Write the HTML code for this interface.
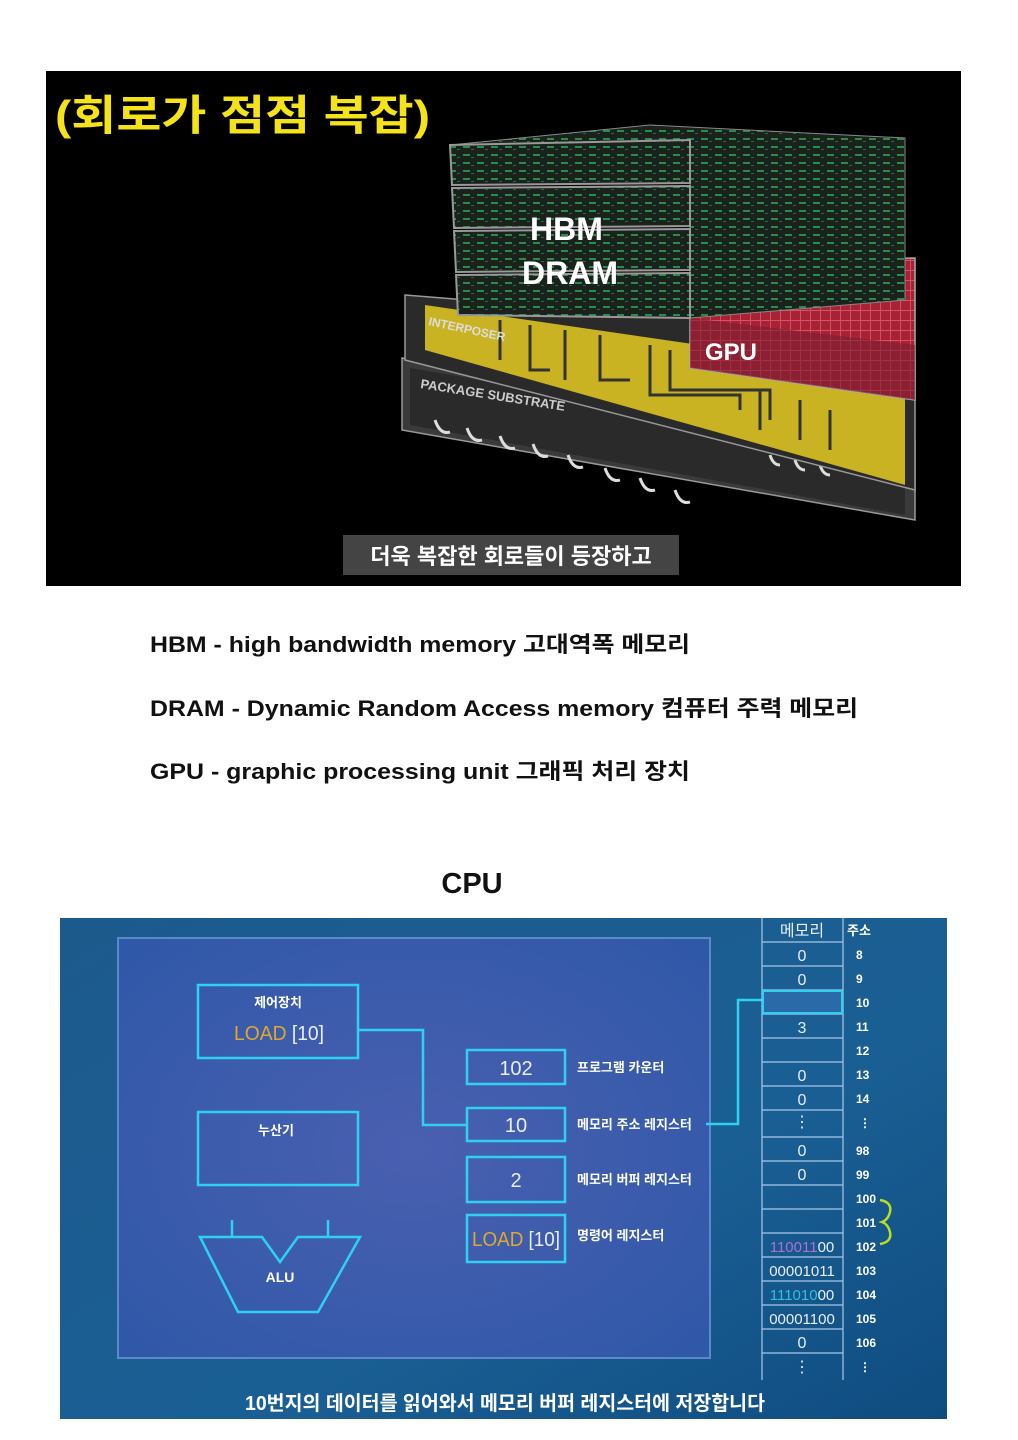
<!DOCTYPE html>
<html><head><meta charset="utf-8"><style>
body{margin:0;background:#fff;}
svg{display:block;}
.k{font-family:"Liberation Sans","Noto Sans CJK KR",sans-serif;}
</style></head><body>
<svg width="1018" height="1440" viewBox="0 0 1018 1440" xmlns="http://www.w3.org/2000/svg" class="k">
<defs>
<linearGradient id="bg2" x1="0" y1="0" x2="1" y2="1"><stop offset="0" stop-color="#1d5a8c"/><stop offset="0.6" stop-color="#1a5f94"/><stop offset="1" stop-color="#0f4c80"/></linearGradient>
<radialGradient id="pan" cx="0.5" cy="0.5" r="0.7"><stop offset="0" stop-color="#4a5fb0"/><stop offset="1" stop-color="#2f58a8"/></radialGradient>
<pattern id="grn" width="14" height="8" patternUnits="userSpaceOnUse"><rect width="14" height="8" fill="#1a221d"/><rect x="1" y="2" width="7" height="2" fill="#2f8a48"/><rect x="9" y="5" width="3" height="1" fill="#246e38"/></pattern>
<pattern id="red" width="10" height="10" patternUnits="userSpaceOnUse"><rect width="10" height="10" fill="#a82236"/><rect x="0" y="0" width="10" height="1" fill="#d8506a"/><rect x="0" y="0" width="1" height="10" fill="#d05060"/></pattern>
</defs>
<rect x="46" y="71" width="915" height="515" fill="#000"/>
<text x="55" y="130" font-size="42" font-weight="bold" fill="#f4e21a" textLength="375" lengthAdjust="spacingAndGlyphs">(회로가 점점 복잡)</text>
<polygon points="402,358 915,440 915,520 402,430" fill="#3a3a3a" stroke="#999" stroke-width="1.5"/>
<polygon points="410,368 905,452 905,515 410,425" fill="#2a2a2a"/>
<text x="420" y="388" font-size="13" font-weight="bold" fill="#ccc" transform="rotate(9 420 388)">PACKAGE SUBSTRATE</text>
<g fill="none" stroke="#ddd" stroke-width="3">
<path d="M435,420 q5,15 15,12"/><path d="M467,428 q5,15 15,12"/><path d="M500,436 q5,15 15,12"/><path d="M533,444 q5,15 15,12"/><path d="M568,455 q5,15 15,12"/><path d="M605,468 q5,15 15,12"/><path d="M640,478 q5,15 15,12"/><path d="M675,490 q5,15 15,12"/><path d="M770,455 q3,10 10,10"/><path d="M795,460 q3,10 10,10"/><path d="M820,465 q3,10 10,10"/>
</g>
<polygon points="405,295 690,318 915,360 915,490 405,360" fill="#2a2a2a" stroke="#999" stroke-width="1.5"/>
<polygon points="425,305 905,375 905,485 425,350" fill="#c9b322"/>
<g stroke="#333" stroke-width="3" fill="none"><path d="M500,320 v40"/><path d="M530,325 v45 h20"/><path d="M565,330 v50"/><path d="M600,335 v45 h30"/><path d="M650,345 v50 h90 v15"/><path d="M670,350 v40 h100 v30"/><path d="M760,390 v40"/><path d="M800,400 v40"/><path d="M830,410 v40"/></g>
<text x="428" y="325" font-size="12" font-weight="bold" fill="#ddd" transform="rotate(12 428 325)">INTERPOSER</text>
<polygon points="690,262 915,258 915,400 690,368" fill="url(#red)" stroke="#aaa" stroke-width="1.5"/>
<polygon points="690,318 915,345 915,400 690,368" fill="#7a2030" opacity="0.6"/>
<text x="705" y="360" font-size="24" font-weight="bold" fill="#fff">GPU</text>
<polygon points="450,145 650,125 905,138 905,300 690,318 690,140" fill="url(#grn)" stroke="#888"/>
<g fill="url(#grn)" stroke="#999" stroke-width="2">
<polygon points="450,145 690,140 690,183 452,185"/>
<polygon points="452,188 690,186 690,226 454,228"/>
<polygon points="454,231 690,229 690,270 456,272"/>
<polygon points="456,275 690,273 690,318 458,315"/>
</g>
<text x="530" y="240" font-size="32" font-weight="bold" fill="#fff">HBM</text>
<text x="522" y="284" font-size="32" font-weight="bold" fill="#fff">DRAM</text>
<rect x="343" y="535" width="336" height="40" fill="#444"/>
<text x="511" y="564" font-size="22" font-weight="bold" fill="#fff" text-anchor="middle">더욱 복잡한 회로들이 등장하고</text>
<g font-size="22" font-weight="bold" fill="#111" lengthAdjust="spacingAndGlyphs">
<text x="150" y="652" textLength="540" lengthAdjust="spacingAndGlyphs">HBM - high bandwidth memory 고대역폭 메모리</text>
<text x="150" y="716" textLength="708" lengthAdjust="spacingAndGlyphs">DRAM  -  Dynamic Random Access memory 컴퓨터 주력 메모리</text>
<text x="150" y="779" textLength="540" lengthAdjust="spacingAndGlyphs">GPU -  graphic processing unit  그래픽 처리 장치</text>
</g>
<text x="472" y="893" font-size="29" font-weight="bold" fill="#111" text-anchor="middle">CPU</text>
<rect x="60" y="918" width="887" height="501" fill="url(#bg2)"/>
<rect x="118" y="938" width="592" height="420" fill="url(#pan)" stroke="#5a8ac8" stroke-width="2"/>
<g fill="none" stroke="#2fd0f0" stroke-width="2.5">
<rect x="198" y="985" width="160" height="73"/>
<rect x="198" y="1112" width="160" height="73"/>
<polygon points="200,1237 262,1237 280,1262 298,1237 360,1237 318,1312 238,1312"/>
<line x1="232" y1="1220" x2="232" y2="1237"/><line x1="328" y1="1220" x2="328" y2="1237"/>
<rect x="467" y="1050" width="98" height="34"/>
<rect x="467" y="1108" width="98" height="33"/>
<rect x="467" y="1157" width="98" height="45"/>
<rect x="467" y="1215" width="98" height="47"/>
<polyline points="358,1030 423,1030 423,1125 467,1125"/>
<polyline points="706,1124 738,1124 738,1000 763,1000"/>
</g>
<g fill="#fff" font-weight="bold" font-size="13">
<text x="278" y="1007" text-anchor="middle">제어장치</text>
<text x="276" y="1135" text-anchor="middle">누산기</text>
<text x="280" y="1282" text-anchor="middle" font-size="14">ALU</text>
<text x="577" y="1072">프로그램 카운터</text>
<text x="577" y="1129">메모리 주소 레지스터</text>
<text x="577" y="1184">메모리 버퍼 레지스터</text>
<text x="577" y="1240">명령어 레지스터</text>
</g>
<g font-size="20" fill="#e8eef8">
<text x="234" y="1040" textLength="90" lengthAdjust="spacingAndGlyphs"><tspan fill="#e0a830">LOAD</tspan> [10]</text>
<text x="516" y="1075" text-anchor="middle">102</text>
<text x="516" y="1132" text-anchor="middle">10</text>
<text x="516" y="1187" text-anchor="middle">2</text>
<text x="472" y="1246" textLength="88" lengthAdjust="spacingAndGlyphs"><tspan fill="#e0a830">LOAD</tspan> [10]</text>
</g>
<g stroke="#a8c8e8" stroke-width="1.2" fill="none">
<line x1="762" y1="918" x2="762" y2="1380"/><line x1="843" y1="918" x2="843" y2="1380"/>
<line x1="762" y1="942" x2="843" y2="942"/><line x1="762" y1="966" x2="843" y2="966"/><line x1="762" y1="990" x2="843" y2="990"/><line x1="762" y1="1014" x2="843" y2="1014"/><line x1="762" y1="1038" x2="843" y2="1038"/><line x1="762" y1="1062" x2="843" y2="1062"/><line x1="762" y1="1086" x2="843" y2="1086"/><line x1="762" y1="1110" x2="843" y2="1110"/><line x1="762" y1="1137" x2="843" y2="1137"/><line x1="762" y1="1161" x2="843" y2="1161"/><line x1="762" y1="1185" x2="843" y2="1185"/><line x1="762" y1="1209" x2="843" y2="1209"/><line x1="762" y1="1233" x2="843" y2="1233"/><line x1="762" y1="1257" x2="843" y2="1257"/><line x1="762" y1="1281" x2="843" y2="1281"/><line x1="762" y1="1305" x2="843" y2="1305"/><line x1="762" y1="1329" x2="843" y2="1329"/><line x1="762" y1="1353" x2="843" y2="1353"/>
</g>
<rect x="763" y="991" width="79" height="22" fill="#2a6aa8" stroke="#2fd0f0" stroke-width="2"/>
<g font-size="16" fill="#e8eef8" text-anchor="middle">
<text x="802" y="936">메모리</text>
<text x="802" y="961">0</text><text x="802" y="985">0</text><text x="802" y="1033">3</text>
<text x="802" y="1081">0</text><text x="802" y="1105">0</text><text x="802" y="1127">⋮</text>
<text x="802" y="1156">0</text><text x="802" y="1180">0</text>
<text x="802" y="1252" font-size="15"><tspan fill="#b070d0">110011</tspan>00</text>
<text x="802" y="1276" font-size="15">00001011</text>
<text x="802" y="1300" font-size="15"><tspan fill="#30c0e0">111010</tspan>00</text>
<text x="802" y="1324" font-size="15">00001100</text>
<text x="802" y="1348">0</text><text x="802" y="1372">⋮</text>
</g>
<g font-size="12" font-weight="bold" fill="#fff">
<text x="847" y="935" font-size="13">주소</text>
<text x="856" y="959">8</text><text x="856" y="983">9</text><text x="856" y="1007">10</text><text x="856" y="1031">11</text><text x="856" y="1055">12</text><text x="856" y="1079">13</text><text x="856" y="1103">14</text><text x="859" y="1127">⋮</text><text x="856" y="1155">98</text><text x="856" y="1179">99</text><text x="856" y="1203">100</text><text x="856" y="1227">101</text><text x="856" y="1251">102</text><text x="856" y="1275">103</text><text x="856" y="1299">104</text><text x="856" y="1323">105</text><text x="856" y="1347">106</text><text x="859" y="1371">⋮</text>
</g>
<path d="M880,1200 q12,2 10,12 q-2,8 -8,10 q6,2 8,10 q2,10 -10,12" fill="none" stroke="#b8e020" stroke-width="2.5"/>
<text x="245" y="1410" font-size="20" font-weight="bold" fill="#fff" textLength="520" lengthAdjust="spacingAndGlyphs">10번지의 데이터를 읽어와서 메모리 버퍼 레지스터에 저장합니다</text>
</svg>
</body></html>
